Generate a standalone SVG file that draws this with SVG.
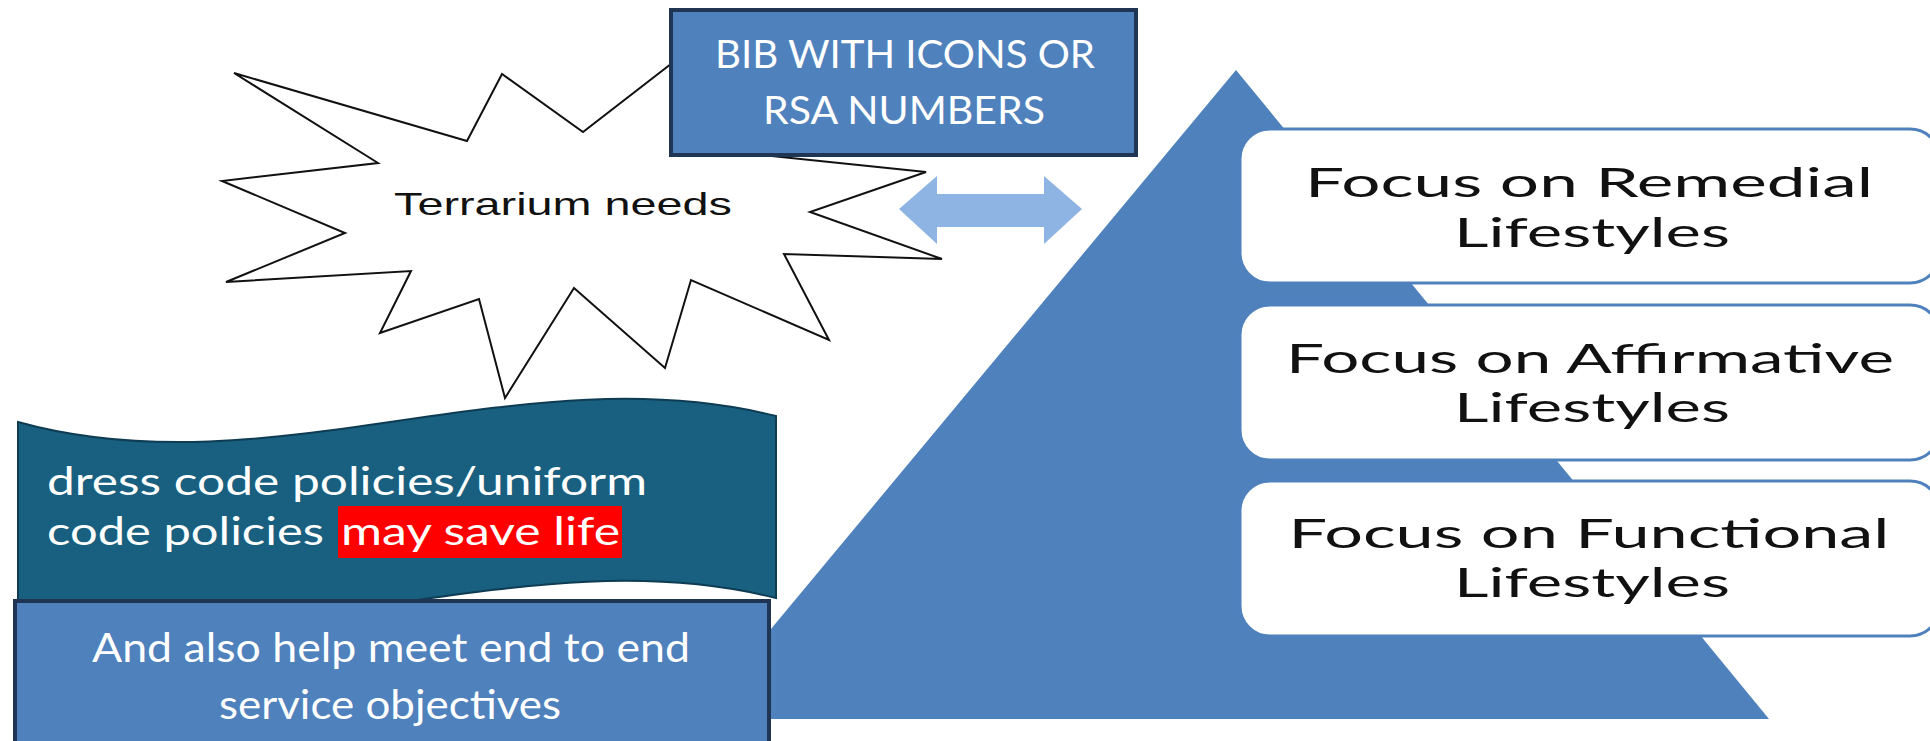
<svg xmlns="http://www.w3.org/2000/svg" width="1930" height="741" viewBox="0 0 1930 741">
<style>
.box{fill:#4f81bd;stroke:#1f3553;stroke-width:4}
.focus{fill:#ffffff;stroke:#4f81bd;stroke-width:3}
.wt{font-family:Lato,"Open Sans","Liberation Sans",sans-serif;fill:#ffffff}
.bt{font-family:Lato,"Open Sans","Liberation Sans",sans-serif;font-weight:normal;fill:#111111;font-size:40px}
.st{font-family:"Liberation Sans",Arial,sans-serif;fill:#111111;font-size:32px}
</style>
<rect width="1930" height="741" fill="#ffffff"/>
<g id="pyramid">
<polygon points="1236,70 1769,719 696,719" fill="#4f81bd"/>
</g>
<g id="focus-remedial">
<rect class="focus" x="1240" y="129" width="700" height="154" rx="30"/>
<text class="bt" x="1589" y="197" text-anchor="middle" textLength="568" lengthAdjust="spacingAndGlyphs">Focus on Remedial</text>
<text class="bt" x="1592" y="247" text-anchor="middle" textLength="276" lengthAdjust="spacingAndGlyphs">Lifestyles</text>
</g>
<g id="focus-affirmative">
<rect class="focus" x="1240" y="305" width="700" height="155" rx="30"/>
<text class="bt" x="1590" y="373" text-anchor="middle" textLength="608" lengthAdjust="spacingAndGlyphs">Focus on Affirmative</text>
<text class="bt" x="1592" y="422" text-anchor="middle" textLength="276" lengthAdjust="spacingAndGlyphs">Lifestyles</text>
</g>
<g id="focus-functional">
<rect class="focus" x="1240" y="481" width="700" height="155" rx="30"/>
<text class="bt" x="1589" y="548" text-anchor="middle" textLength="601" lengthAdjust="spacingAndGlyphs">Focus on Functional</text>
<text class="bt" x="1592" y="597" text-anchor="middle" textLength="276" lengthAdjust="spacingAndGlyphs">Lifestyles</text>
</g>
<g id="terrarium-needs">
<polygon points="234,73 467,141 502,74 583,132 720,26 705,149 926,172 810,212 942,259 784,254 829,340 691,280 665,368 574,288 505,398 479,299 380,333 411,271 226,282 345,233 222,181 378,163" fill="#ffffff" stroke="#111111" stroke-width="2" stroke-linejoin="miter"/>
<text class="st" x="563" y="215" text-anchor="middle" textLength="338" lengthAdjust="spacingAndGlyphs">Terrarium needs</text>
</g>
<g id="connectors">
<polygon points="899,209 937,176 937,194 1044,194 1044,176 1082,209 1044,244 1044,227 937,227 937,244" fill="#8eb4e3"/>
</g>
<g id="bib">
<rect class="box" x="671" y="10" width="465" height="145"/>
<text class="wt" x="905" y="68" font-size="38" text-anchor="middle" textLength="380" lengthAdjust="spacingAndGlyphs">BIB WITH ICONS OR</text>
<text class="wt" x="904" y="124" font-size="38" text-anchor="middle" textLength="282" lengthAdjust="spacingAndGlyphs">RSA NUMBERS</text>
</g>
<g id="dress-code">
<path d="M18,422 C270,492 520,352 776,416 L776,598 C520,534 270,674 18,604 Z" fill="#185f80" stroke="#0e3c53" stroke-width="2"/>
<rect x="338" y="506" width="284" height="52" fill="#ff0000"/>
<text class="wt" x="47" y="495" font-size="38" textLength="600" lengthAdjust="spacingAndGlyphs">dress code policies/uniform</text>
<text class="wt" x="47" y="545" font-size="38" textLength="277" lengthAdjust="spacingAndGlyphs">code policies</text>
<text class="wt" x="341" y="545" font-size="38" textLength="279" lengthAdjust="spacingAndGlyphs">may save life</text>
</g>
<g id="end-to-end">
<rect class="box" x="15" y="601" width="754" height="150"/>
<text class="wt" x="391" y="662" font-size="40" text-anchor="middle" textLength="598" lengthAdjust="spacingAndGlyphs">And also help meet end to end</text>
<text class="wt" x="390" y="719" font-size="40" text-anchor="middle" textLength="342" lengthAdjust="spacingAndGlyphs">service objectives</text>
</g>
</svg>
